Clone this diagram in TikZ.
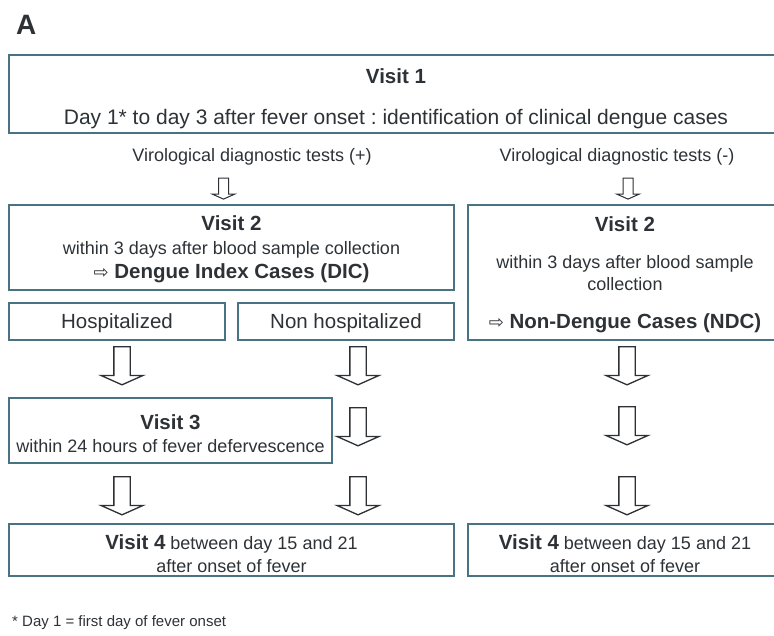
\documentclass[tikz,border=0pt]{standalone}
\usepackage{fontspec}
\setmainfont{Liberation Sans}
\newfontfamily\symfont{DejaVu Sans}
\usepackage{tikz}
\usetikzlibrary{shapes.arrows, positioning}

\definecolor{boxline}{RGB}{72,115,130}
\definecolor{txt}{RGB}{45,50,55}
\definecolor{arrowline}{RGB}{45,48,52}

\newcommand{\fsreg}{\fontsize{18}{23}\selectfont}
\newcommand{\fsbig}{\fontsize{20.5}{24}\selectfont}
\newcommand{\thickarrow}{{\symfont\fontsize{18}{18}\selectfont\char"21E8}}
\frenchspacing

\begin{document}
\begin{tikzpicture}[x=1pt, y=-1pt,
    box/.style={draw=boxline, line width=1.8pt, inner sep=0pt, align=center, text=txt, font=\fsreg, text depth=0pt},
    plain/.style={inner sep=0pt, text=txt, font=\fsreg},
    bigarrow/.style={single arrow, draw=arrowline, fill=white, line width=1.3pt,
        shape border rotate=270, inner sep=7.5pt, single arrow head extend=13pt,
        single arrow tip angle=132, minimum height=38pt},
    smallarrow/.style={bigarrow, line width=1pt, inner sep=4.5pt,
        single arrow head extend=6pt, minimum height=21pt}
    ]
    \clip (0,0) rectangle (774,635);

    \node[plain, anchor=west, font=\fontsize{28}{28}\selectfont\bfseries] (panel) at (16,25) {A};

    % first visit
    \node[box, minimum width=774pt, minimum height=78pt] (visit1) at (396,94)
        {\rule{0pt}{19pt}{\fsbig\bfseries Visit 1}\\[18pt]{\fontsize{21}{24}\selectfont Day 1* to day 3 after fever onset : identification of clinical dengue cases}};

    \node[plain] (testpos) at (252,157) {Virological diagnostic tests (+)};
    \node[plain] (testneg) at (617,157) {Virological diagnostic tests (-)};
    \node[smallarrow] (a1) at (223.5,187.5) {};
    \node[smallarrow] (a2) at (628,187.5) {};

    % second visit
    \node[box, minimum width=445pt, minimum height=85pt, font=\fontsize{18}{24}\selectfont] (visit2dic) at (231.5,247.5)
        {{\fsbig\bfseries Visit 2}\\within 3 days after blood sample collection\\{\fsbig\thickarrow\ \bfseries Dengue Index Cases (DIC)}};
    \node[box, minimum width=314pt, minimum height=135pt, font=\fontsize{18}{22}\selectfont] (visit2ndc) at (625,272.5)
        {{\fsbig\bfseries Visit 2}\\[15pt]within 3 days after blood sample\\collection\\[16pt]{\fsbig\thickarrow\ \bfseries Non-Dengue Cases (NDC)}};

    \node[box, minimum width=216pt, minimum height=37pt, font=\fsbig] (hosp) at (117,321.5) {Hospitalized};
    \node[box, minimum width=216pt, minimum height=37pt, font=\fsbig] (nonhosp) at (346,321.5) {Non hospitalized};

    \node[bigarrow] (a3) at (122,364) {};
    \node[bigarrow] (a4) at (358,364) {};
    \node[bigarrow] (a5) at (627,364) {};

    % third visit
    \node[box, minimum width=323pt, minimum height=65pt] (visit3) at (170.5,430.5)
        {\rule{0pt}{21pt}{\fsbig\bfseries Visit 3}\\within 24 hours of fever defervescence};
    \node[bigarrow] (a6) at (358,425) {};
    \node[bigarrow] (a7) at (627,424) {};

    \node[bigarrow] (a8) at (122,494) {};
    \node[bigarrow] (a9) at (358,494) {};
    \node[bigarrow] (a10) at (627,494) {};

    % fourth visit
    \node[box, minimum width=445pt, minimum height=52pt] (visit4dic) at (231.5,550)
        {\rule{0pt}{22pt}{\fsbig\bfseries Visit 4} between day 15 and 21\\after onset of fever};
    \node[box, minimum width=314pt, minimum height=52pt] (visit4ndc) at (625,550)
        {\rule{0pt}{22pt}{\fsbig\bfseries Visit 4} between day 15 and 21\\after onset of fever};

    \node[plain, anchor=west, font=\fontsize{15}{15}\selectfont] (note) at (12,623) {* Day 1 = first day of fever onset};

\end{tikzpicture}
\end{document}
